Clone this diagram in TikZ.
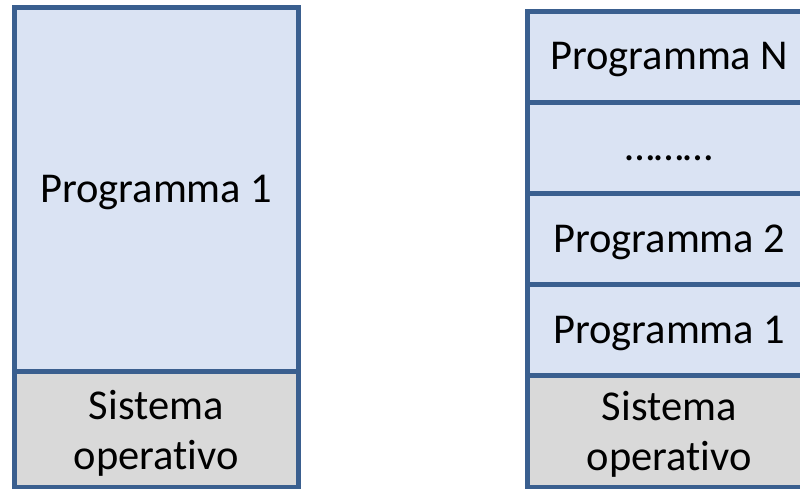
\documentclass[tikz,border=0pt]{standalone}
\usepackage{fontspec}
\setmainfont{Carlito}[Ligatures=NoCommon]
\usetikzlibrary{positioning}
\definecolor{memblue}{HTML}{DAE3F3}
\definecolor{memgray}{HTML}{D9D9D9}
\definecolor{memline}{HTML}{3A5F8F}
\tikzset{
  cell/.style={draw=memline, line width=5pt, fill=memblue, minimum width=283.5pt,
    inner sep=0pt, outer sep=0pt, align=center, font=\fontsize{42.5}{50}\selectfont,
    text height=26pt, text depth=0pt},
  oscell/.style={cell, fill=memgray, text height=, text depth=0pt}
}
\begin{document}
\begin{tikzpicture}[x=1pt,y=1pt]
\clip (0,0) rectangle (800,-489);
% single program
\node [cell, minimum height=364pt, anchor=north west] (single) at (14.5,-7.5) {Programma 1};
\node [oscell, minimum height=116pt, below=0pt of single] (singleos) {Sistema\\operativo};
% multiprogramming
\node [cell, minimum height=91pt, anchor=north west] (progN) at (527.5,-11.5) {Programma N};
\node [cell, minimum height=91pt, below=0pt of progN] (dots) {………};
\node [cell, minimum height=91pt, below=0pt of dots] (prog2) {Programma 2};
\node [cell, minimum height=91pt, below=0pt of prog2] (prog1) {Programma 1};
\node [oscell, minimum height=111.5pt, below=0pt of prog1] (multios) {Sistema\\operativo};
\end{tikzpicture}
\end{document}
